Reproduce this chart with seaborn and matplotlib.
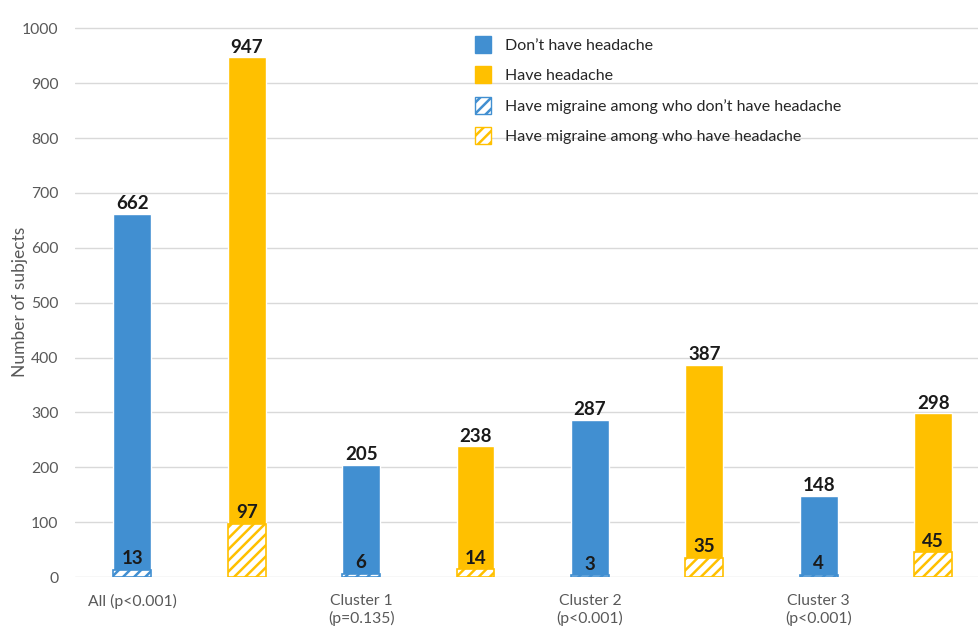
import matplotlib
matplotlib.use("Agg")
import matplotlib.pyplot as plt
import matplotlib.patches as mpatches
import seaborn as sns
import pandas as pd

groups = ["All (p<0.001)", "Cluster 1\n(p=0.135)", "Cluster 2\n(p<0.001)", "Cluster 3\n(p<0.001)"]
no_headache = [662, 205, 287, 148]
headache = [947, 238, 387, 298]
migraine_no_headache = [13, 6, 3, 4]
migraine_headache = [97, 14, 35, 45]

series_names = ["Don’t have headache", "Have headache",
                "Have migraine among who don’t have headache",
                "Have migraine among who have headache"]
BLUE = "#418FD1"
YELLOW = "#FFC000"

sns.set_theme(style="white")
plt.rcParams['font.family'] = ['Lato', 'DejaVu Sans']
plt.rcParams['hatch.linewidth'] = 1.8

slots, totals, migs, kinds = [], [], [], []
for i in range(len(groups)):
    slots += [f"s{2*i}", f"s{2*i+1}"]
    totals += [no_headache[i], headache[i]]
    migs += [migraine_no_headache[i], migraine_headache[i]]
    kinds += ["blue", "yellow"]
df = pd.DataFrame({"slot": slots, "total": totals, "mig": migs, "kind": kinds})

fig = plt.figure(figsize=(9.79, 6.27), dpi=100)
ax = fig.add_axes([0.0766, 0.0797, 0.9234, 0.877])

pal = {"blue": BLUE, "yellow": YELLOW}
sns.barplot(data=df, x="slot", y="total", hue="kind", palette=pal, dodge=False,
            width=0.33, order=slots, legend=False, ax=ax, saturation=1)
n_main = len(ax.patches)
sns.barplot(data=df, x="slot", y="mig", hue="kind", palette=pal, dodge=False,
            width=0.33, order=slots, legend=False, ax=ax, saturation=1)
for p in ax.patches[n_main:]:
    idx = int(round(p.get_x() + p.get_width() / 2))
    col = BLUE if idx % 2 == 0 else YELLOW
    p.set_facecolor("white")
    p.set_edgecolor(col)
    p.set_hatch("///")
    p.set_linewidth(1.2)
    p.set_zorder(3)
for p in ax.patches[:n_main]:
    p.set_zorder(2)

# value labels
for j in range(len(slots)):
    ax.annotate(str(totals[j]), (j, totals[j]), xytext=(0, 1), textcoords="offset points",
                ha="center", va="bottom", fontsize=13.5, fontweight="bold", color="#1a1a1a", zorder=5)
    ax.annotate(str(migs[j]), (j, migs[j]), xytext=(0, 2), textcoords="offset points",
                ha="center", va="bottom", fontsize=13.5, fontweight="bold", color="#1a1a1a", zorder=5)

ax.set_xlim(-0.5, 7.4)
ax.set_ylim(0, 1002)
ax.set_yticks(range(0, 1001, 100))
ax.set_xticks([0, 2, 4, 6])
ax.set_xticklabels(groups, fontsize=11.3, color="#595959", linespacing=1.3)
ax.tick_params(axis="y", labelsize=11.3, labelcolor="#595959", length=0, pad=12)
ax.tick_params(axis="x", length=0, pad=12)
ax.yaxis.grid(True, color="#d9d9d9", linewidth=1)
ax.set_axisbelow(True)
for s in ax.spines.values():
    s.set_visible(False)
ax.set_xlabel("")
ax.set_ylabel("Number of subjects", fontsize=12.5, color="#595959")
ax.yaxis.set_label_coords(-0.052, 0.5)

handles = [
    mpatches.Patch(facecolor=BLUE, edgecolor=BLUE, label=series_names[0]),
    mpatches.Patch(facecolor=YELLOW, edgecolor=YELLOW, label=series_names[1]),
    mpatches.Patch(facecolor="white", edgecolor=BLUE, hatch="///", label=series_names[2]),
    mpatches.Patch(facecolor="white", edgecolor=YELLOW, hatch="///", label=series_names[3]),
]
leg = ax.legend(handles=handles, loc="upper left", bbox_to_anchor=(0.427, 1.01),
                frameon=False, fontsize=11.5, handlelength=1.0, handleheight=1.25,
                labelspacing=0.85, handletextpad=0.85)
for t in leg.get_texts():
    t.set_color("#262626")

fig.savefig("out.png", dpi=100)
